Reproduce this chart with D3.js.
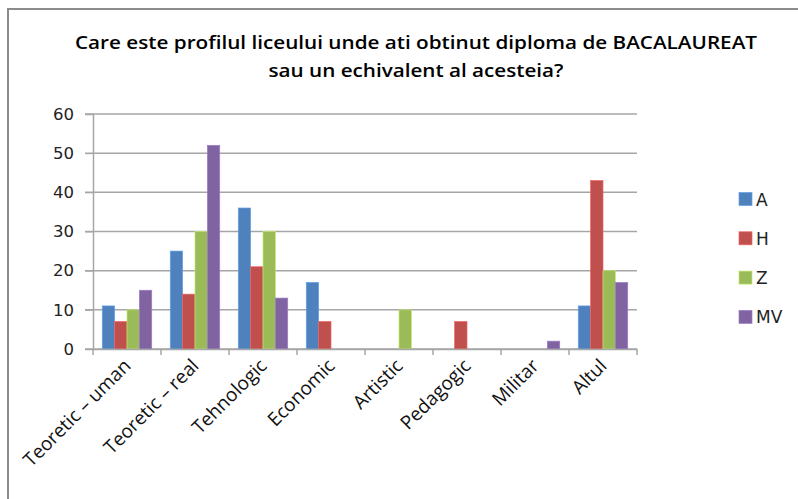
<!DOCTYPE html>
<html><head><meta charset="utf-8">
<script src="https://cdn.jsdelivr.net/npm/d3@7"></script>
<style>body{margin:0;background:#fff}svg{display:block}</style>
</head><body>
<svg id="c" width="798" height="499"></svg>
<script>
const categories = ["Teoretic \u2013 uman","Teoretic \u2013 real","Tehnologic","Economic","Artistic","Pedagogic","Militar","Altul"];
const seriesNames = ["A","H","Z","MV"];
const valuesA  = [11, 25, 36, 17, 0, 0, 0, 11];
const valuesH  = [7, 14, 21, 7, 0, 7, 0, 43];
const valuesZ  = [10, 30, 30, 0, 10, 0, 0, 20];
const valuesMV = [15, 52, 13, 0, 0, 0, 2, 17];
const yTicks = [0, 10, 20, 30, 40, 50, 60];
const colors = ["#4F81BD","#C0504D","#9BBB59","#8064A2"];
const titleLines = ["Care este profilul liceului unde ati obtinut diploma de BACALAUREAT","sau un echivalent al acesteia?"];

(function(){
const series = [valuesA, valuesH, valuesZ, valuesMV];
const svg = d3.select("#c");

// frame
svg.append("path").attr("d","M8,499 V9 H798").attr("fill","none").attr("stroke","#8c8c8c").attr("stroke-width",2);

// title
const title = svg.append("text").attr("text-anchor","middle").attr("font-family","Open Sans, Liberation Sans, Arial, sans-serif")
  .attr("font-weight","600").attr("font-size",17.5).attr("fill","#000");
title.selectAll("tspan").data(titleLines).join("tspan").attr("x",416).attr("y",(d,i)=>49+i*28)
  .attr("textLength",(d,i)=>i===0?682:295).attr("lengthAdjust","spacingAndGlyphs").text(d=>d);

const pLeft = 93, pRight = 637, pTop = 114, pBottom = 349;
const x = d3.scaleBand().domain(categories).range([pLeft, pRight]).paddingInner(0).paddingOuter(0);
const y = d3.scaleLinear().domain([0, 60]).range([pBottom, pTop]);
const xs = d3.scaleBand().domain(seriesNames).range([0, x.bandwidth()]).paddingOuter(0.75).paddingInner(0);

// gridlines
svg.append("g").selectAll("line").data(yTicks).join("line")
  .attr("x1",pLeft-8).attr("x2",pRight).attr("y1",d=>y(d)).attr("y2",d=>y(d))
  .attr("stroke","#a6a6a6").attr("stroke-width",1.5);

// y axis
const yAxis = svg.append("g").attr("transform",`translate(${pLeft},0)`)
  .call(d3.axisLeft(y).tickValues(yTicks).tickSize(8).tickPadding(11));
yAxis.select(".domain").attr("stroke","#a6a6a6").attr("stroke-width",1.5);
yAxis.selectAll(".tick line").attr("stroke","#a6a6a6");
yAxis.selectAll(".tick text").attr("font-family","DejaVu Sans, Verdana, sans-serif").attr("font-size",16.5).attr("fill","#222");

// bars
series.forEach((vals, si) => {
  svg.append("g").selectAll("rect").data(vals.map((v,i)=>({c:categories[i], v})).filter(d=>d.v>0)).join("rect")
    .attr("x", d => x(d.c) + xs(seriesNames[si]))
    .attr("y", d => y(d.v))
    .attr("width", xs.bandwidth())
    .attr("height", d => y(0) - y(d.v))
    .attr("fill", colors[si])
    .attr("stroke", d3.color(colors[si]).brighter(0.6))
    .attr("stroke-width", 0.7);
});

// x axis
const xAxis = svg.append("g").attr("transform",`translate(0,${pBottom})`)
  .call(d3.axisBottom(x).tickSize(0).tickFormat(""));
xAxis.select(".domain").attr("stroke","#a6a6a6").attr("stroke-width",1.5);
const tickPos = categories.map(c => x(c)).concat([pRight]);
svg.append("g").selectAll("line").data(tickPos).join("line")
  .attr("x1",d=>d).attr("x2",d=>d).attr("y1",pBottom).attr("y2",pBottom+6)
  .attr("stroke","#a6a6a6").attr("stroke-width",1.5);

// category labels
svg.append("g").selectAll("text").data(categories).join("text")
  .attr("transform", d => `translate(${x(d)+x.bandwidth()/2+5},${pBottom+18}) rotate(-45)`)
  .attr("text-anchor","end")
  .attr("font-family","Open Sans, Liberation Sans, sans-serif").attr("font-size",19).attr("fill","#111")
  .text(d=>d);

// legend
const lg = svg.append("g");
seriesNames.forEach((n,i)=>{
  const cy = 199 + i*39.3;
  lg.append("rect").attr("x",739).attr("y",cy-6.5).attr("width",13).attr("height",13)
    .attr("fill",colors[i]).attr("stroke",d3.color(colors[i]).brighter(0.6)).attr("stroke-width",0.7);
  lg.append("text").attr("x",756).attr("y",cy+6.5).attr("font-family","DejaVu Sans, Verdana, sans-serif")
    .attr("font-size",17).attr("fill","#222").text(n);
});
})();
</script>
</body></html>
